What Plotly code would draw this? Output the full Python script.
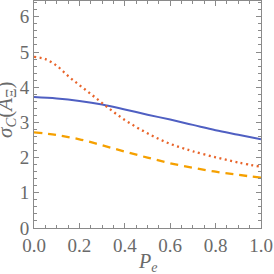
import plotly.graph_objects as go

pe_solid = [0.0, 0.1, 0.2, 0.3, 0.4, 0.5, 0.6, 0.7, 0.8, 0.9, 1.0]
sigma_solid = [3.72, 3.68, 3.61, 3.51, 3.37, 3.22, 3.08, 2.93, 2.78, 2.65, 2.52]

pe_dot = [0.0, 0.05, 0.1, 0.15, 0.2, 0.25, 0.3, 0.35, 0.4, 0.45, 0.5, 0.55, 0.6, 0.65, 0.7, 0.8, 0.9, 1.0]
sigma_dot = [4.86, 4.80, 4.61, 4.32, 4.06, 3.81, 3.55, 3.30, 3.07, 2.87, 2.69, 2.53, 2.39, 2.28, 2.18, 2.01, 1.86, 1.74]

pe_dash = [0.0, 0.1, 0.2, 0.3, 0.4, 0.5, 0.6, 0.7, 0.8, 0.9, 1.0]
sigma_dash = [2.72, 2.64, 2.52, 2.35, 2.17, 2.00, 1.84, 1.71, 1.60, 1.51, 1.43]

x_ticks = [0.0, 0.2, 0.4, 0.6, 0.8, 1.0]
x_tick_labels = ["0.0", "0.2", "0.4", "0.6", "0.8", "1.0"]
y_ticks = [0, 1, 2, 3, 4, 5, 6]
y_tick_labels = ["0", "1", "2", "3", "4", "5", "6"]

x_title = "<i>P</i><sub><i>e</i></sub>"
y_title = "<i>σ</i><sub><i>C</i></sub>(<i>A</i><sub>Ξ</sub>)"

SERIF = "Liberation Serif, Times New Roman, serif"
GRAY = "#6a6a6a"

fig = go.Figure()
fig.add_trace(go.Scatter(x=pe_solid, y=sigma_solid, mode="lines",
                         line=dict(color="#4f5fc2", width=2, shape="spline")))
fig.add_trace(go.Scatter(x=pe_dot, y=sigma_dot, mode="lines",
                         line=dict(color="#e8642a", width=2.3, dash="2px,3.5px", shape="spline")))
fig.add_trace(go.Scatter(x=pe_dash, y=sigma_dash, mode="lines",
                         line=dict(color="#f5a000", width=2.3, dash="8px,6px", shape="spline")))

axis_common = dict(
    showgrid=False, zeroline=False, showline=True, linecolor="#8a8a8a", linewidth=1,
    mirror="allticks", ticks="inside", ticklen=5, tickcolor="#8a8a8a", tickwidth=1,
    tickfont=dict(family=SERIF, size=19, color=GRAY), automargin=False,
)

fig.update_layout(
    width=274, height=274,
    margin=dict(l=34, r=13, t=1, b=46),
    plot_bgcolor="white", paper_bgcolor="white",
    showlegend=False,
    font=dict(family=SERIF, color=GRAY),
    xaxis=dict(range=[0, 1], tickvals=x_ticks, ticktext=x_tick_labels,
               minor=dict(dtick=0.05, ticks="inside", ticklen=3, tickcolor="#8a8a8a"),
               **axis_common),
    yaxis=dict(range=[0, 6.45], tickvals=y_ticks, ticktext=y_tick_labels,
               minor=dict(dtick=0.2, ticks="inside", ticklen=3, tickcolor="#8a8a8a"),
               **axis_common),
    annotations=[
        dict(text=x_title, xref="paper", yref="paper", x=0.5, y=-0.11, yshift=-10,
             xanchor="center", yanchor="middle", showarrow=False,
             font=dict(family=SERIF, size=20, color=GRAY)),
        dict(text=y_title, xref="paper", yref="paper", x=-0.097, y=0.52, xshift=-6,
             xanchor="center", yanchor="middle", showarrow=False, textangle=-90,
             font=dict(family=SERIF, size=21, color=GRAY)),
    ],
)

fig.write_html("out.html", config={"displayModeBar": False},
               post_script="document.body.style.margin='0px';")
